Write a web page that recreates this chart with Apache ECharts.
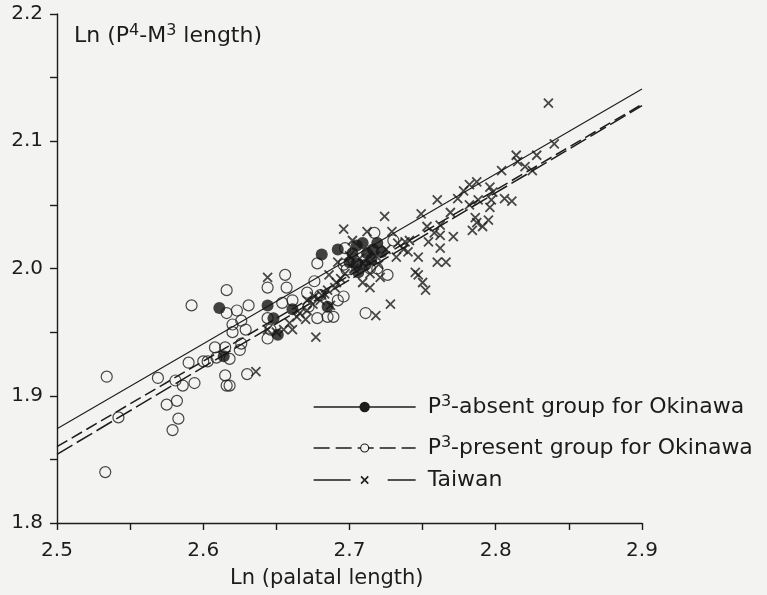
<!DOCTYPE html>
<html><head><meta charset="utf-8">
<script src="https://cdn.jsdelivr.net/npm/echarts@6/dist/echarts.min.js"></script>
<style>html,body{margin:0;padding:0;background:#f3f3f1}#c{width:767px;height:595px}</style>
</head><body><div id="c"></div>
<script>
// ---- data ----
const fitX = [2.5, 2.9];
const absentFitY = [1.874, 2.141];
const presentFitY = [1.860, 2.129];
const taiwanFitY = [1.854, 2.128];

const absentPoints = [[2.611,1.969],[2.644,1.971],[2.648,1.961],[2.651,1.948],[2.614,1.931],[2.661,1.968],[2.681,2.011],[2.692,2.015],[2.705,2.018],[2.709,2.020],[2.716,2.015],[2.705,2.004],[2.706,1.997],[2.712,2.012],[2.722,2.013],[2.685,1.970],[2.700,2.005],[2.711,2.003],[2.715,2.007],[2.702,2.012],[2.719,2.020]];

const presentPoints = [[2.592,1.971],[2.534,1.915],[2.569,1.914],[2.590,1.926],[2.586,1.908],[2.594,1.910],[2.581,1.912],[2.575,1.893],[2.582,1.896],[2.583,1.882],[2.579,1.873],[2.542,1.883],[2.533,1.840],[2.616,1.983],[2.623,1.967],[2.631,1.971],[2.616,1.965],[2.626,1.959],[2.629,1.952],[2.620,1.950],[2.620,1.956],[2.625,1.936],[2.626,1.941],[2.608,1.938],[2.609,1.930],[2.603,1.927],[2.618,1.929],[2.615,1.916],[2.616,1.908],[2.618,1.908],[2.630,1.917],[2.644,1.985],[2.656,1.995],[2.657,1.985],[2.654,1.973],[2.661,1.975],[2.644,1.961],[2.646,1.952],[2.644,1.945],[2.678,2.004],[2.676,1.990],[2.671,1.981],[2.672,1.970],[2.678,1.961],[2.685,1.962],[2.615,1.938],[2.600,1.927],[2.711,1.965],[2.689,1.962],[2.696,1.978],[2.692,1.975],[2.726,1.995],[2.719,2.000],[2.714,2.000],[2.696,2.003],[2.698,1.999],[2.730,2.022],[2.717,2.028],[2.680,1.979],[2.697,2.016]];

const taiwanPoints = [[2.636,1.919],[2.644,1.993],[2.644,1.952],[2.650,1.950],[2.655,1.952],[2.659,1.957],[2.661,1.952],[2.664,1.962],[2.666,1.965],[2.670,1.960],[2.671,1.975],[2.671,1.967],[2.675,1.972],[2.676,1.978],[2.677,1.946],[2.680,1.975],[2.681,1.979],[2.683,1.980],[2.685,1.983],[2.686,1.995],[2.687,1.971],[2.690,1.985],[2.691,1.989],[2.692,2.005],[2.694,1.992],[2.696,2.031],[2.697,1.996],[2.700,2.010],[2.702,2.022],[2.703,2.000],[2.707,2.008],[2.709,1.989],[2.709,2.004],[2.712,2.029],[2.714,1.996],[2.714,1.985],[2.718,1.963],[2.718,2.010],[2.720,2.003],[2.721,1.993],[2.724,2.041],[2.725,2.015],[2.728,1.972],[2.729,2.029],[2.732,2.009],[2.733,2.020],[2.737,2.015],[2.738,2.021],[2.740,2.013],[2.741,2.022],[2.745,1.997],[2.747,2.009],[2.747,1.995],[2.749,2.043],[2.750,1.989],[2.752,1.983],[2.753,2.033],[2.754,2.021],[2.758,2.028],[2.760,2.054],[2.760,2.005],[2.762,2.034],[2.762,2.026],[2.762,2.016],[2.766,2.005],[2.769,2.044],[2.771,2.025],[2.774,2.055],[2.778,2.061],[2.782,2.066],[2.782,2.050],[2.784,2.030],[2.786,2.040],[2.787,2.068],[2.787,2.036],[2.788,2.054],[2.791,2.033],[2.795,2.038],[2.796,2.064],[2.796,2.048],[2.797,2.054],[2.798,2.060],[2.804,2.077],[2.806,2.055],[2.811,2.053],[2.814,2.089],[2.815,2.084],[2.820,2.080],[2.825,2.077],[2.828,2.089],[2.836,2.130],[2.840,2.098]];

const seriesNames = ['P3-absent group for Okinawa', 'P3-present group for Okinawa', 'Taiwan'];
const legendLabels = ['{a|P}{s|3}{a|-absent group for Okinawa}', '{a|P}{s|3}{a|-present group for Okinawa}', '{a|Taiwan}'];
const yTitle = '{a|Ln (P}{s|4}{a|-M}{s|3}{a| length)}';
const xTitle = 'Ln (palatal length)';

// ---- styling ----
const BG = '#f3f3f1';
const INK = '#1c1c1c';
const FONT = 'DejaVu Sans';
const crossPath = 'path://M0,0L10,10M10,0L0,10';
const isTenth = v => Math.abs(Math.round(v * 100)) % 10 === 0;
const pairs = ys => fitX.map((x, i) => [x, ys[i]]);

const richLegend = {
  a: {fontSize: 22, fontFamily: FONT, color: INK, lineHeight: 26},
  s: {fontSize: 16, fontFamily: FONT, color: INK, lineHeight: 14, verticalAlign: 'top'}
};
function makeLegend(i, centerY, itemH, lineType, symBorder) {
  return {
    data: [{name: seriesNames[i]}],
    left: 313, top: centerY - 13, orient: 'vertical', padding: 0,
    itemWidth: 102, itemHeight: itemH, selectedMode: false,
    formatter: () => legendLabels[i],
    textStyle: {padding: [0, 0, 0, 7], rich: richLegend},
    itemStyle: symBorder,
    lineStyle: {color: INK, width: 1.3, type: lineType}
  };
}

const chart = echarts.init(document.getElementById('c'));
chart.setOption({
  backgroundColor: BG,
  animation: false,
  grid: {left: 57, right: 125, top: 14, bottom: 72},
  xAxis: {
    type: 'value', min: 2.5, max: 2.9, interval: 0.05,
    axisLine: {onZero: false, lineStyle: {color: INK, width: 1.4}},
    axisTick: {length: 7, lineStyle: {color: INK, width: 1.4}},
    splitLine: {show: false},
    axisLabel: {margin: 18, color: INK, fontFamily: FONT, fontSize: 20,
      formatter: v => isTenth(v) ? v.toFixed(1) : ''}
  },
  yAxis: {
    type: 'value', min: 1.8, max: 2.2, interval: 0.05,
    axisLine: {show: true, onZero: false, lineStyle: {color: INK, width: 1.4}},
    axisTick: {show: true, length: 7, lineStyle: {color: INK, width: 1.4}},
    splitLine: {show: false},
    axisLabel: {margin: 14, color: INK, fontFamily: FONT, fontSize: 20,
      formatter: v => isTenth(v) ? v.toFixed(1) : ''}
  },
  legend: [
    makeLegend(0, 407, 13, 'solid', {color: INK, borderColor: INK, borderWidth: 0}),
    makeLegend(1, 448, 10, [16, 6], {color: BG, borderColor: INK, borderWidth: 1.1}),
    makeLegend(2, 482, 9, [37, 37], {color: INK, borderColor: INK, borderWidth: 1.6})
  ],
  graphic: [
    {type: 'text', x: 74, y: 36, silent: true, style: {
      text: yTitle, align: 'left', verticalAlign: 'middle',
      rich: {a: {fontSize: 22, fontFamily: FONT, fill: INK, lineHeight: 26},
             s: {fontSize: 16, fontFamily: FONT, fill: INK, lineHeight: 14, verticalAlign: 'top'}}
    }},
    {type: 'text', x: 230, y: 579, silent: true, style: {
      text: xTitle, align: 'left', verticalAlign: 'middle',
      fontSize: 21, fontFamily: FONT, fill: INK
    }}
  ],
  series: [
    {name: seriesNames[0], type: 'line', data: pairs(absentFitY), showSymbol: false, symbol: 'circle',
     lineStyle: {color: INK, width: 1.1, type: 'solid'}, itemStyle: {color: INK}, silent: true, z: 2},
    {name: seriesNames[1], type: 'line', data: pairs(presentFitY), showSymbol: false, symbol: 'circle',
     lineStyle: {color: INK, width: 1.5, type: [12, 5]}, itemStyle: {color: BG, borderColor: INK, borderWidth: 1}, silent: true, z: 2},
    {name: seriesNames[2], type: 'line', data: pairs(taiwanFitY), showSymbol: false, symbol: crossPath,
     lineStyle: {color: INK, width: 1.5, type: [18, 5]}, itemStyle: {color: INK, borderColor: INK, borderWidth: 1.4}, silent: true, z: 2},
    {name: seriesNames[1], type: 'scatter', data: presentPoints, symbol: 'circle', symbolSize: 11,
     itemStyle: {color: 'rgba(0,0,0,0)', borderColor: INK, borderWidth: 1.2}, silent: true, z: 3},
    {name: seriesNames[2], type: 'scatter', data: taiwanPoints, symbol: crossPath, symbolSize: 9,
     itemStyle: {color: INK, borderColor: INK, borderWidth: 1.8}, silent: true, z: 3},
    {name: seriesNames[0], type: 'scatter', data: absentPoints, symbol: 'circle', symbolSize: 12,
     itemStyle: {color: '#141414'}, silent: true, z: 4}
  ]
});
</script></body></html>
